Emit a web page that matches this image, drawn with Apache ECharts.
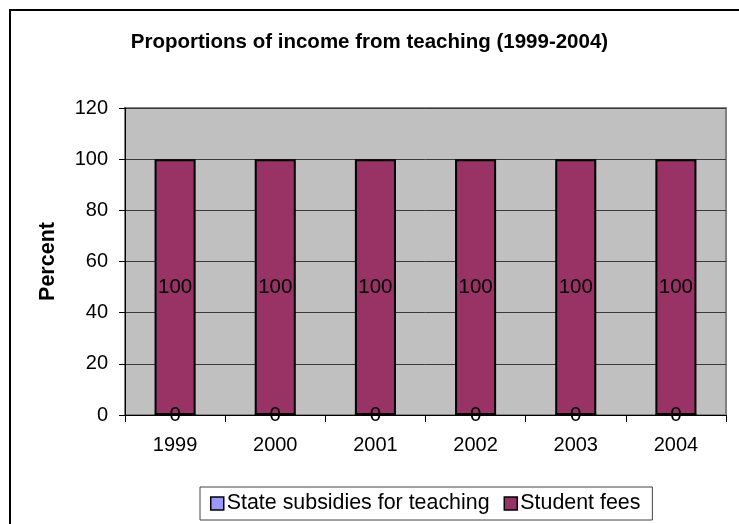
<!DOCTYPE html>
<html>
<head>
<meta charset="utf-8">
<script src="https://cdn.jsdelivr.net/npm/echarts@6/dist/echarts.min.js"></script>
<style>html,body{margin:0;padding:0;background:#fff}#c{width:739px;height:524px}</style>
</head>
<body>
<div id="c"></div>
<script>
var categories = ['1999', '2000', '2001', '2002', '2003', '2004'];
var stateSubsidies = [0, 0, 0, 0, 0, 0];
var studentFees = [100, 100, 100, 100, 100, 100];
var seriesNames = ['State subsidies for teaching', 'Student fees'];
var titleText = 'Proportions of income from teaching (1999-2004)';
var yAxisName = 'Percent';

var FONT = 'Arial, "Liberation Sans", sans-serif';
var chart = echarts.init(document.getElementById('c'));
var labelStyle = { show: true, position: 'inside', color: '#000', fontFamily: FONT, fontSize: 20.5 };
chart.setOption({
  animation: false,
  backgroundColor: '#fff',
  graphic: [{
    type: 'rect', z: -10, silent: true,
    shape: { x: 10, y: 10, width: 800, height: 600 },
    style: { fill: 'none', stroke: '#000', lineWidth: 2 }
  }],
  title: {
    text: titleText, left: 'center', top: 27,
    textStyle: { fontFamily: FONT, fontSize: 20.5, fontWeight: 'bold', color: '#000' }
  },
  legend: {
    left: 200, top: 487,
    data: seriesNames,
    icon: 'rect', itemWidth: 13, itemHeight: 13, itemGap: 14,
    padding: [6, 12, 6, 10],
    backgroundColor: '#fff', borderColor: '#444', borderWidth: 1,
    itemStyle: { borderColor: '#000', borderWidth: 1.5 },
    textStyle: { fontFamily: FONT, fontSize: 21.4, color: '#000', padding: [0, 0, 0, -2] }
  },
  grid: {
    left: 125, right: 13, top: 108, bottom: 109,
    show: true, backgroundColor: '#c0c0c0', borderColor: '#808080', borderWidth: 2
  },
  xAxis: {
    type: 'category', data: categories,
    axisLine: { lineStyle: { color: '#000', width: 1 } },
    axisTick: { show: true, length: 7, alignWithLabel: false, lineStyle: { color: '#000' } },
    axisLabel: { margin: 20, color: '#000', fontFamily: FONT, fontSize: 20 }
  },
  yAxis: {
    type: 'value', min: 0, max: 120, interval: 20,
    name: yAxisName, nameLocation: 'middle', nameGap: 66, nameRotate: 90,
    nameTextStyle: { fontFamily: FONT, fontSize: 21.5, fontWeight: 'bold', color: '#000' },
    axisLine: { show: true, lineStyle: { color: '#000', width: 1 } },
    axisTick: { show: true, length: 6, lineStyle: { color: '#000' } },
    axisLabel: { margin: 17, color: '#000', fontFamily: FONT, fontSize: 20 },
    splitLine: { show: true, lineStyle: { color: '#3a3a3a', width: 1 } }
  },
  series: [
    {
      name: seriesNames[0], type: 'bar', stack: 'total', data: stateSubsidies,
      barWidth: '41%',
      itemStyle: { color: '#9999ff', borderColor: '#000', borderWidth: 2 },
      label: labelStyle
    },
    {
      name: seriesNames[1], type: 'bar', stack: 'total', data: studentFees,
      barWidth: '41%',
      itemStyle: { color: '#993366', borderColor: '#000', borderWidth: 2 },
      label: labelStyle
    }
  ]
});
</script>
</body>
</html>
